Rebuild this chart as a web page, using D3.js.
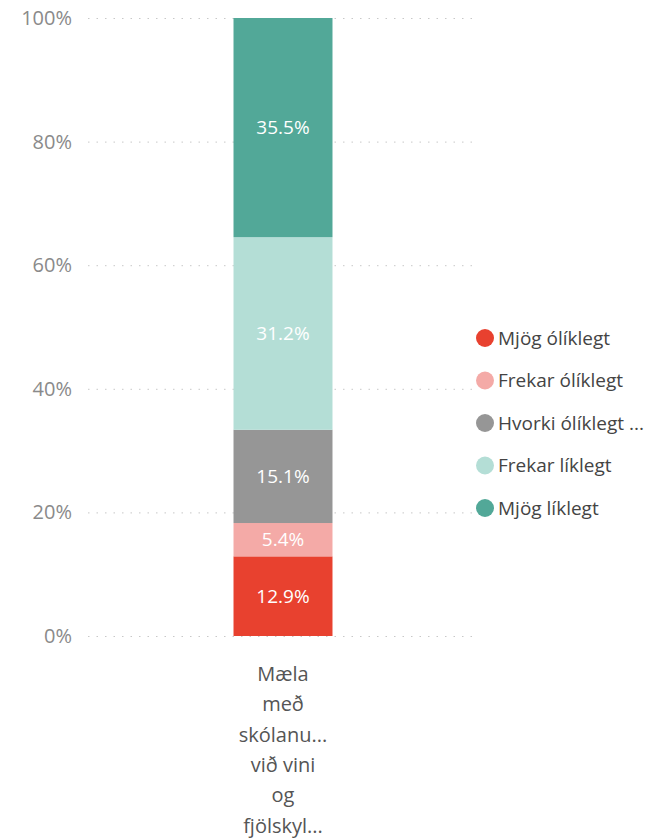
<!DOCTYPE html>
<html lang="is">
<head>
  <meta charset="utf-8">
  <title>Mæla með skólanum</title>
  <script src="https://d3js.org/d3.v7.min.js"></script>
  <style>
    body { margin: 0; background: #fff; font-family: "Open Sans", "Noto Sans", sans-serif; }
  </style>
</head>
<body>
  <div id="chart"></div>
  <script>
    // one category, five answers (percent of respondents)
    const categories = ["Mæla með skólanu... við vini og fjölskyl..."]
    const categoryLines = ["Mæla", "með", "skólanu...", "við vini", "og", "fjölskyl..."]
    const series = ["Mjög ólíklegt", "Frekar ólíklegt", "Hvorki ólíklegt ...", "Frekar líklegt", "Mjög líklegt"]
    const values = [12.9, 5.4, 15.1, 31.2, 35.5]
    const colors = ["#e8412f", "#f4aaa7", "#969696", "#b4ded6", "#52a898"]
    const yTicks = [0, 20, 40, 60, 80, 100]

    const width = 646, height = 839
    const margin = { top: 18, left: 88, right: 168, bottom: 203 }

    const svg = d3.select("#chart").append("svg")
      .attr("width", width)
      .attr("height", height)

    const x = d3.scaleBand()
      .domain(categories)
      .range([margin.left, width - margin.right])
      .paddingInner(0)
      .paddingOuter(1.47)

    const total = d3.sum(values)
    const y = d3.scaleLinear()
      .domain([0, 100])
      .range([height - margin.bottom, margin.top])

    // gridlines + tick labels
    const yAxis = svg.append("g")
      .attr("transform", `translate(${margin.left},0)`)
      .call(d3.axisLeft(y).tickValues(yTicks).tickFormat(d => d + "%")
        .tickSize(-(width - margin.right - margin.left)).tickPadding(16))
    yAxis.select(".domain").remove()
    yAxis.selectAll(".tick line")
      .attr("stroke", "#c8c8c8")
      .attr("stroke-dasharray", "1.5,7")
    yAxis.selectAll(".tick text")
      .attr("fill", "#8a8a8a")
      .style("font-size", "20px")
      .style("font-family", "'Open Sans', sans-serif")

    // stack the values
    let acc = 0
    const stacked = values.map((v, i) => {
      const d = { key: series[i], v: v, y0: acc / total * 100, y1: (acc + v) / total * 100, color: colors[i] }
      acc += v
      return d
    })

    const bar = svg.append("g")
    bar.selectAll("rect")
      .data(stacked)
      .join("rect")
      .attr("x", x(categories[0]))
      .attr("width", x.bandwidth())
      .attr("y", d => y(d.y1))
      .attr("height", d => y(d.y0) - y(d.y1))
      .attr("fill", d => d.color)

    bar.selectAll("text")
      .data(stacked)
      .join("text")
      .attr("x", x(categories[0]) + x.bandwidth() / 2)
      .attr("y", d => (y(d.y0) + y(d.y1)) / 2)
      .attr("dy", "0.35em")
      .attr("text-anchor", "middle")
      .attr("fill", "#fff")
      .style("font-size", "19px")
      .text(d => d.v.toFixed(1) + "%")

    // category label, wrapped like the original
    const xl = svg.append("text")
      .attr("text-anchor", "middle")
      .attr("fill", "#555")
      .style("font-size", "20px")
    xl.selectAll("tspan")
      .data(categoryLines)
      .join("tspan")
      .attr("x", x(categories[0]) + x.bandwidth() / 2)
      .attr("y", (d, i) => 681 + i * 30.3)
      .text(d => d)

    // legend
    const legend = svg.append("g").attr("transform", "translate(485,338)")
    const item = legend.selectAll("g")
      .data(series)
      .join("g")
      .attr("transform", (d, i) => `translate(0,${i * 42.5})`)
    item.append("circle")
      .attr("r", 9)
      .attr("fill", (d, i) => colors[i])
    item.append("text")
      .attr("x", 13)
      .attr("dy", "0.35em")
      .attr("fill", "#444")
      .style("font-size", "19px")
      .text(d => d)
  </script>
</body>
</html>
